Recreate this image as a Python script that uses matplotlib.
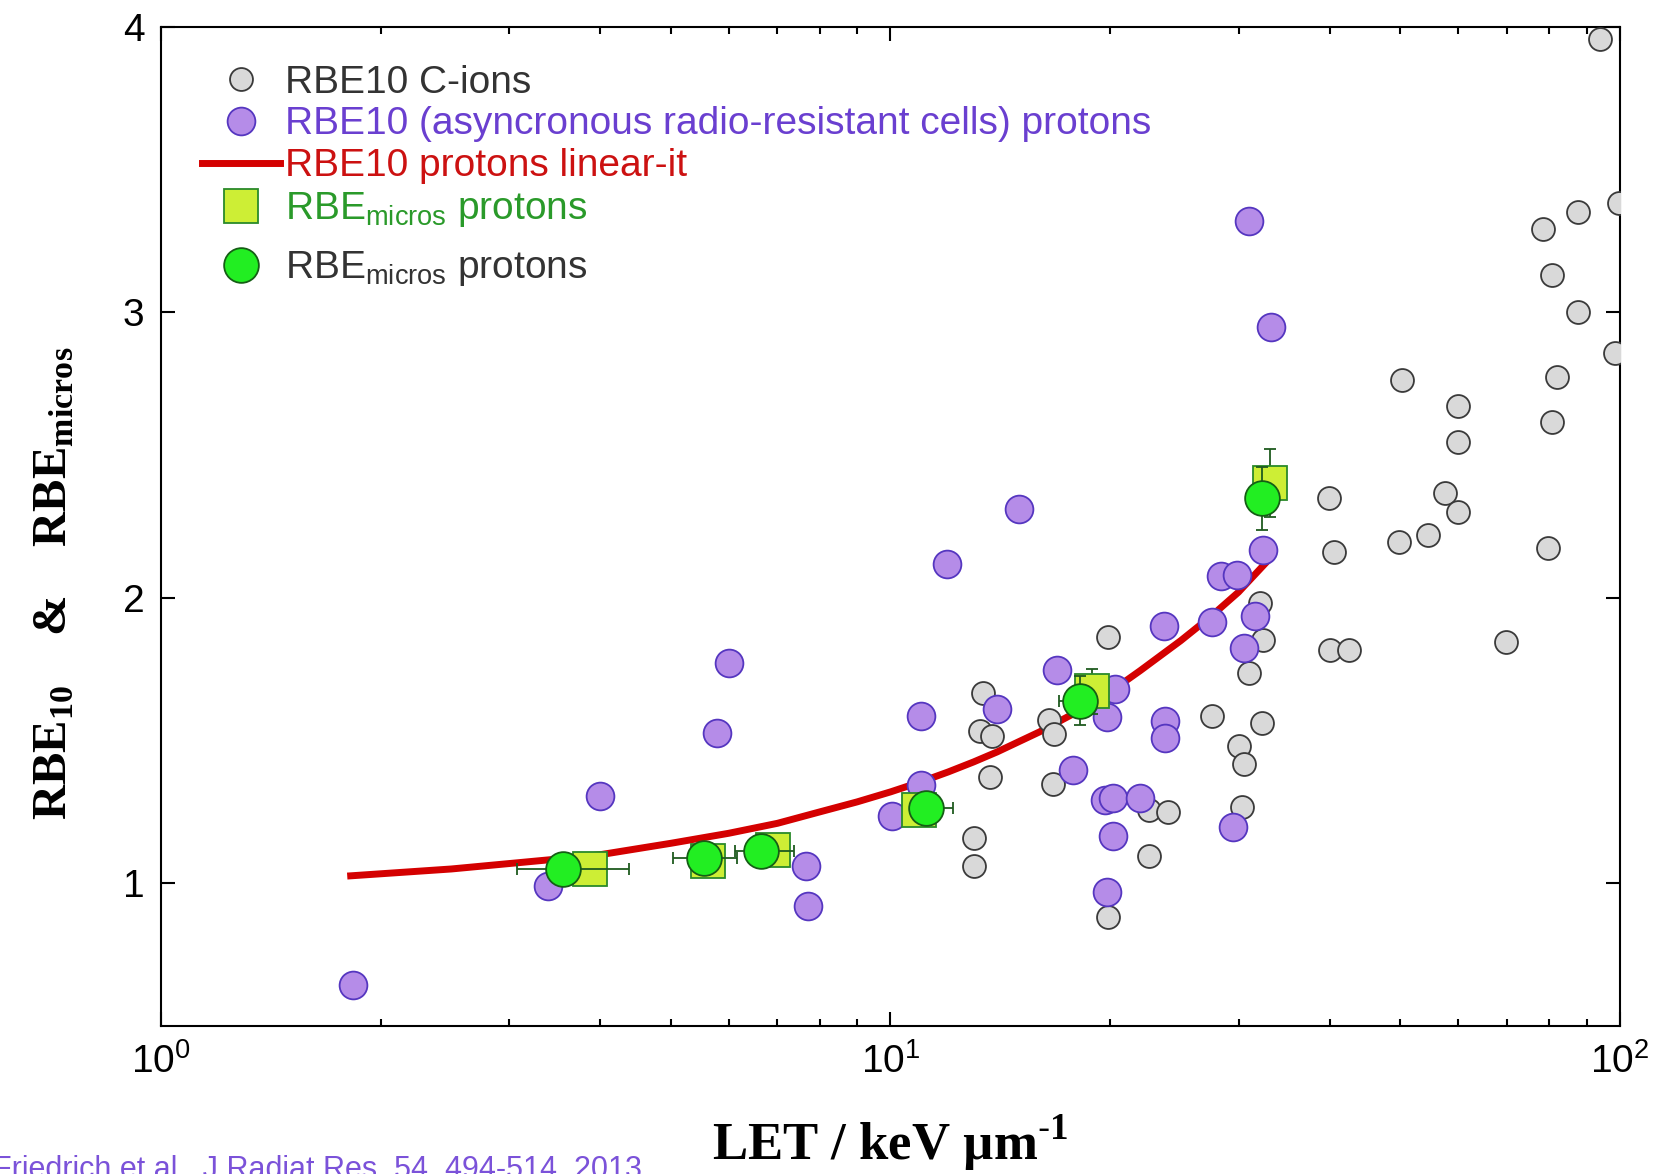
import numpy as np
import matplotlib
matplotlib.use('Agg')
import matplotlib.pyplot as plt
from matplotlib import rc

# RBE10 C-ions (grey circles)
c_let = [13.0, 13.0, 13.27, 13.4, 13.7, 13.8, 16.5, 16.75, 16.7, 19.9, 19.9,
         22.6, 22.6, 24.0, 27.6, 30.0, 30.3, 30.5, 31.0, 32.1, 32.3, 32.4,
         39.9, 40.5, 40.0, 42.5, 49.8, 50.2, 54.5, 57.5, 60.0, 60.0, 60.0,
         69.9, 78.5, 79.6, 80.8, 80.8, 81.9, 87.7, 87.7, 93.9, 98.4, 99.8]
c_rbe = [1.059, 1.158, 1.532, 1.666, 1.374, 1.517, 1.573, 1.524, 1.349, 1.862, 0.882,
         1.096, 1.257, 1.25, 1.587, 1.482, 1.267, 1.419, 1.736, 1.981, 1.563, 1.853,
         2.349, 2.159, 1.816, 1.816, 2.197, 2.764, 2.221, 2.367, 2.302, 2.547, 2.672,
         1.847, 3.291, 2.174, 2.617, 3.131, 2.773, 3.353, 3.0, 3.957, 2.857, 3.385]

# RBE10 asynchronous radio-resistant cells, protons (purple circles)
p_let = [1.834, 3.39, 4.0, 5.79, 6.01, 7.67, 7.7, 10.05, 11.0, 11.0, 11.94, 14.0,
         15.0, 16.9, 17.8, 19.7, 19.8, 19.8, 20.2, 20.2, 20.3, 22.0, 23.7, 23.8,
         23.8, 27.6, 28.4, 29.5, 29.9, 30.5, 31.0, 31.6, 32.4, 33.2]
p_rbe = [0.644, 0.989, 1.304, 1.526, 1.771, 1.059, 0.921, 1.234, 1.345, 1.587, 2.12, 1.61,
         2.31, 1.748, 1.398, 1.29, 0.969, 1.584, 1.30, 1.166, 1.68, 1.30, 1.90, 1.567,
         1.509, 1.914, 2.075, 1.196, 2.08, 1.824, 3.322, 1.937, 2.168, 2.948]

# linear fit of the proton RBE10
fit_let = [1.82, 2.5, 3.5, 4.0, 5.0, 6.0, 7.0, 8.0, 9.0, 10.0, 11.0, 12.0, 13.0,
           14.0, 16.0, 18.0, 20.0, 22.0, 25.0, 27.5, 30.0, 33.1]
fit_rbe = [1.026, 1.05, 1.085, 1.10, 1.14, 1.175, 1.21, 1.25, 1.285, 1.32, 1.355, 1.39,
           1.425, 1.46, 1.53, 1.60, 1.67, 1.745, 1.85, 1.935, 2.02, 2.137]

# RBE micros protons (squares)
sq_let = [3.87, 5.63, 6.91, 10.95, 18.9, 33.1]
sq_rbe = [1.051, 1.079, 1.117, 1.255, 1.672, 2.402]
sq_yerr = [0.0, 0.0, 0.0, 0.0, 0.08, 0.12]

# RBE micros protons (green circles)
g_let = [3.56, 5.55, 6.65, 11.2, 18.2, 32.3]
g_rbe = [1.051, 1.088, 1.112, 1.263, 1.64, 2.349]
g_xlo = [0.48, 0.51, 0.52, 0.5, 1.2, 0.0]
g_xhi = [0.82, 0.62, 0.72, 1.0, 0.0, 0.0]
g_yerr = [0.0, 0.0, 0.0, 0.0, 0.085, 0.11]

xticks = [1, 10, 100]
xticklabels = [r'$\mathregular{10^{0}}$', r'$\mathregular{10^{1}}$', r'$\mathregular{10^{2}}$']
yticks = [1, 2, 3, 4]


def draw():
    rc('font', family='Liberation Sans')
    rc('mathtext', fontset='custom', rm='Liberation Sans', it='Liberation Sans:italic',
       bf='Liberation Serif:bold')

    fig = plt.figure(figsize=(16.63, 11.74), dpi=100)
    ax = fig.add_axes([0.0968, 0.1261, 0.8773, 0.8509])

    ln, = ax.plot(fit_let, fit_rbe, color='#d40000', lw=5, zorder=2)
    cl, = ax.plot(c_let, c_rbe, ls='none', marker='o', ms=16.5, mfc='#d9d9d9',
                  mec='#3a3a3a', mew=1.3, zorder=3)
    pl, = ax.plot(p_let, p_rbe, ls='none', marker='o', ms=20, mfc='#b58ce8',
                  mec='#5536c0', mew=1.3, zorder=4)
    sq = ax.errorbar(sq_let, sq_rbe, yerr=sq_yerr, ls='none', marker='s', ms=25,
                     mfc='#cdee35', mec='#2a8a2a', mew=1.3, ecolor='#1f5a1f',
                     elinewidth=1.3, capsize=4, zorder=5)
    gc = ax.errorbar(g_let, g_rbe, xerr=[g_xlo, g_xhi], yerr=g_yerr, ls='none',
                     marker='o', ms=25, mfc='#22ee22', mec='#155e15', mew=1.3,
                     ecolor='#1f5a1f', elinewidth=1.3, capsize=4, zorder=6)

    ax.set_xscale('log')
    ax.set_xlim(1, 100)
    ax.set_ylim(0.5, 4)
    ax.set_xticks(xticks)
    ax.set_xticklabels(xticklabels)
    ax.set_yticks(yticks)
    ax.tick_params(which='both', direction='in', top=True, right=True, labelsize=28,
                   width=1.5, pad=12)
    ax.tick_params(which='major', length=10)
    ax.tick_params(which='minor', length=5)
    ax.yaxis.set_minor_locator(matplotlib.ticker.NullLocator())
    for s in ax.spines.values():
        s.set_linewidth(1.5)

    ax.set_xlabel(r'LET / keV µm$^{\text{-}\mathbf{1}}$', fontfamily='Liberation Serif',
                  fontweight='bold', fontsize=38, labelpad=24)
    ax.set_ylabel(r'RBE$_{\mathbf{10}}$    &    RBE$_{\mathbf{micros}}$',
                  fontfamily='Liberation Serif', fontweight='bold', fontsize=35)
    ax.yaxis.set_label_coords(-0.058, 0.443)

    opts = dict(frameon=False, fontsize=28, handlelength=2.0, handletextpad=0.15,
                borderaxespad=0, borderpad=0, numpoints=1)
    leg1 = ax.legend([cl, pl, ln, sq.lines[0]],
                     ['RBE10 C-ions',
                      'RBE10 (asyncronous radio-resistant cells) protons',
                      'RBE10 protons linear-it',
                      r'RBE$_{\mathregular{micros}}$ protons'],
                     loc='upper left', bbox_to_anchor=(0.028, 0.9623),
                     labelspacing=0.15, **opts)
    for t, c in zip(leg1.get_texts(), ['#333333', '#6a3fd0', '#cc1111', '#2a9a2a']):
        t.set_color(c)
    ax.add_artist(leg1)
    leg2 = ax.legend([gc.lines[0]], [r'RBE$_{\mathregular{micros}}$ protons'],
                     loc='center left', bbox_to_anchor=(0.028, 0.758), **opts)
    leg2.get_texts()[0].set_color('#333333')

    fig.text(-0.004, 0.016, 'Friedrich et al., J Radiat Res, 54, 494-514, 2013',
             color='#7b52d9', fontsize=22, va='top', ha='left')

    plt.savefig('out.png', dpi=100)


if __name__ == "__main__":
    draw()
